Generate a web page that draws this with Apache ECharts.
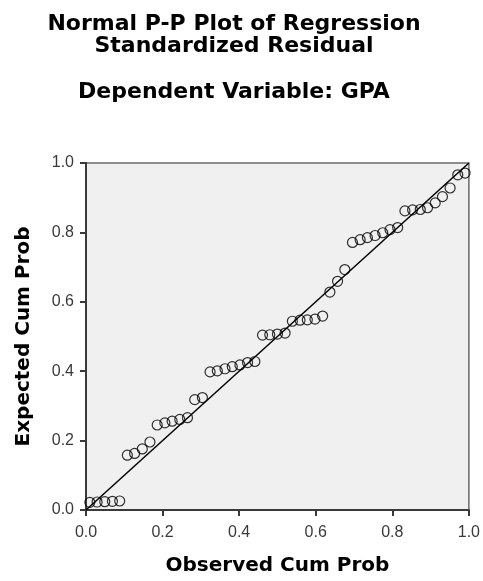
<!DOCTYPE html>
<html>
<head>
<meta charset="utf-8">
<title>Normal P-P Plot of Regression Standardized Residual</title>
<script src="https://cdn.jsdelivr.net/npm/echarts@6/dist/echarts.min.js"></script>
<style>
  html, body { margin: 0; padding: 0; background: #ffffff; }
  #chart { width: 483px; height: 581px; }
</style>
</head>
<body>
<div id="chart"></div>
<script>
// Observed (empirical) cumulative probability of each standardized residual
const observedCumProb = [
  0.010, 0.029, 0.049, 0.069, 0.088, 0.108, 0.127, 0.147, 0.167, 0.186,
  0.206, 0.225, 0.245, 0.265, 0.284, 0.304, 0.324, 0.343, 0.363, 0.382,
  0.402, 0.422, 0.441, 0.461, 0.480, 0.500, 0.520, 0.539, 0.559, 0.578,
  0.598, 0.618, 0.637, 0.657, 0.676, 0.696, 0.716, 0.735, 0.755, 0.775,
  0.794, 0.814, 0.833, 0.853, 0.873, 0.892, 0.912, 0.931, 0.951, 0.971,
  0.990
];

// Expected cumulative probability under the normal distribution
const expectedCumProb = [
  0.022, 0.023, 0.024, 0.025, 0.026, 0.158, 0.163, 0.176, 0.196, 0.245,
  0.251, 0.256, 0.261, 0.266, 0.318, 0.324, 0.398, 0.401, 0.407, 0.413,
  0.418, 0.425, 0.428, 0.504, 0.505, 0.507, 0.510, 0.544, 0.547, 0.548,
  0.550, 0.559, 0.628, 0.659, 0.693, 0.771, 0.779, 0.785, 0.791, 0.799,
  0.808, 0.814, 0.862, 0.865, 0.866, 0.871, 0.885, 0.903, 0.928, 0.966,
  0.971
];

// Reference diagonal (perfect normality)
const diagonalX = [0, 1];
const diagonalY = [0, 1];

// Axis range and tick step shared by both axes
const axisMin = 0;
const axisMax = 1;
const tickStep = 0.2;

const titleLines = ['Normal P-P Plot of Regression', 'Standardized Residual'];
const subtitle = 'Dependent Variable: GPA';
const xName = 'Observed Cum Prob';
const yName = 'Expected Cum Prob';

const points = observedCumProb.map((x, i) => [x, expectedCumProb[i]]);
const diagonal = diagonalX.map((x, i) => [x, diagonalY[i]]);

const boldFont = 'DejaVu Sans';
const tickFont = 'Liberation Sans';

const chart = echarts.init(document.getElementById('chart'), null, { renderer: 'canvas' });

const valueAxis = (name, nameGap, labelMargin) => ({
  type: 'value',
  min: axisMin,
  max: axisMax,
  interval: tickStep,
  name: name,
  nameLocation: 'middle',
  nameGap: nameGap,
  nameTextStyle: {
    fontFamily: boldFont,
    fontWeight: 'bold',
    fontSize: 20,
    color: '#000000'
  },
  axisLine: { show: true, lineStyle: { color: '#3a3a3a', width: 2 } },
  axisTick: { show: true, inside: false, length: 6, lineStyle: { color: '#3a3a3a', width: 2 } },
  axisLabel: {
    margin: labelMargin,
    fontFamily: tickFont,
    fontSize: 16,
    color: '#3a3a3a',
    formatter: v => v.toFixed(1)
  },
  splitLine: { show: false }
});

chart.setOption({
  animation: false,
  backgroundColor: '#ffffff',
  grid: {
    left: 86,
    top: 163,
    right: 10,
    bottom: 69,
    show: true,
    backgroundColor: '#f0f0f0',
    borderColor: '#6a6a6a',
    borderWidth: 1.5
  },
  graphic: [
    {
      type: 'text',
      style: {
        x: 234, y: 13,
        text: titleLines.join('\n'),
        font: 'bold 22px "' + boldFont + '"',
        lineHeight: 22,
        textAlign: 'center',
        fill: '#000000'
      }
    },
    {
      type: 'text',
      style: {
        x: 234, y: 81,
        text: subtitle,
        font: 'bold 22px "' + boldFont + '"',
        textAlign: 'center',
        fill: '#000000'
      }
    }
  ],
  xAxis: valueAxis(xName, 46, 15),
  yAxis: valueAxis(yName, 52, 12),
  series: [
    {
      type: 'line',
      data: diagonal,
      symbol: 'none',
      silent: true,
      lineStyle: { color: '#000000', width: 1.5 },
      z: 2
    },
    {
      type: 'scatter',
      data: points,
      symbol: 'circle',
      symbolSize: 10,
      itemStyle: {
        color: 'rgba(0,0,0,0)',
        borderColor: '#000000',
        borderWidth: 1.2
      },
      z: 3
    }
  ]
});
</script>
</body>
</html>
